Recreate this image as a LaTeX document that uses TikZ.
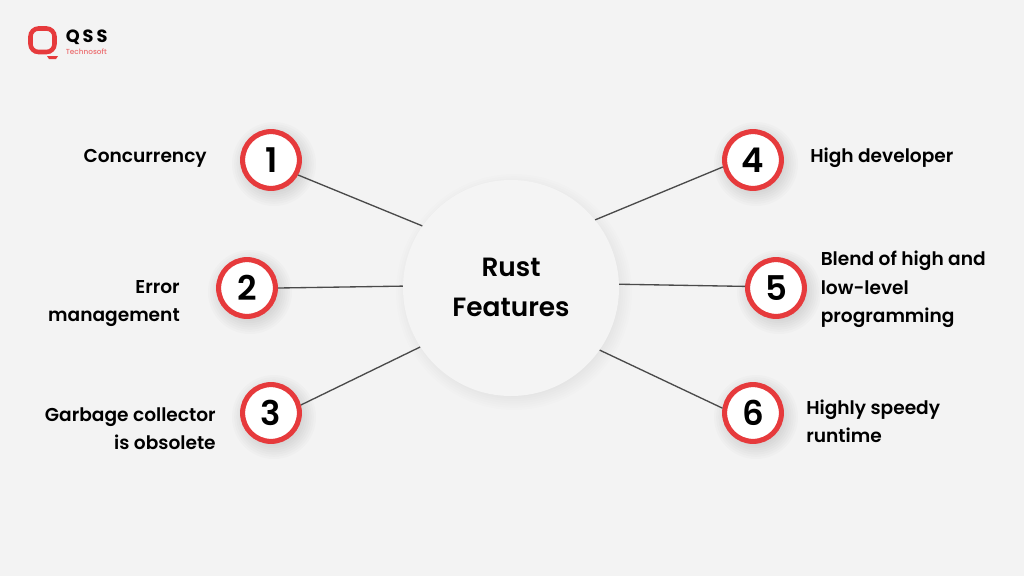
\documentclass[tikz,border=0pt]{standalone}
\usepackage{fontspec}
\setmainfont{Poppins SemiBold}
\newfontfamily\popsb{Poppins SemiBold}
\newfontfamily\popb{Poppins Bold}
\newfontfamily\popm{Poppins Medium}
\definecolor{bgc}{HTML}{F3F3F3}
\definecolor{hubf}{HTML}{F4F4F4}
\definecolor{redc}{HTML}{E63A3C}
\definecolor{linec}{HTML}{4A4A4A}
\tikzset{
  x=0.75pt,y=-0.75pt,
  numc/.style={circle,draw=redc,line width=3.8pt,fill=white,minimum size=42.6pt,inner sep=0pt,font=\popsb\fontsize{25.5pt}{25.5pt}\selectfont,text=black},
  hubc/.style={circle,fill=hubf,minimum size=162pt,inner sep=0pt,align=center,font=\popsb\fontsize{19.8pt}{30pt}\selectfont,text=black},
  lab/.style={font=\fontsize{13.95pt}{21pt}\selectfont,text=black,inner sep=0pt},
  conn/.style={draw=linec,line width=1pt},
}
\newcommand{\softshadow}[4]{% x y r maxalpha
  \foreach \k in {0,...,9}{
    \fill[black,opacity=#4] (#1+3,#2+4) circle ({(#3+12-2.2*\k)*0.75pt});
  }
}
\begin{document}
\begin{tikzpicture}
\useasboundingbox (0,0) rectangle (1024,576);
\fill[bgc] (0,0) rectangle (1024,576);
% shadows
\softshadow{511}{288}{106}{0.006}
\softshadow{271}{160}{30}{0.014}
\softshadow{247}{288}{30}{0.014}
\softshadow{271}{413}{30}{0.014}
\softshadow{753}{160}{30}{0.014}
\softshadow{776}{288}{30}{0.014}
\softshadow{753}{413}{30}{0.014}
% nodes
\node[hubc] (hub) at (511,288) {\raisebox{1pt}{Rust}\\\raisebox{0.7pt}{Features}};
\node[numc] (n1) at (271,160) {\hspace{1.5pt}1};
\node[numc] (n2) at (247,288) {2};
\node[numc] (n3) at (271,413) {3};
\node[numc] (n4) at (753,160) {4};
\node[numc] (n5) at (776,288) {5};
\node[numc] (n6) at (753,413) {6};
% connectors
\draw[conn] (n1.-29) -- (hub.145);
\draw[conn] (n2.0) -- (hub.179);
\draw[conn] (n3.15) -- (hub.213.5);
\draw[conn] (n4.193) -- (hub.39);
\draw[conn] (n5.177) -- (hub.2.6);
\draw[conn] (n6.171) -- (hub.-35);
% labels
\node[lab,anchor=east] (l1) at (207,158) {Concurrency};
\node[lab,anchor=east,align=right] (l2) at (180,304) {Error\\management};
\node[lab,anchor=east,align=right] (l3) at (216,428.5) {Garbage collector\\is obsolete};
\node[lab,anchor=west] (l4) at (810,158) {High developer};
\node[lab,anchor=west,align=left,font=\fontsize{13.95pt}{21.4pt}\selectfont] (l5) at (820.5,289.5) {Blend of high and\\low-level\\programming};
\node[lab,anchor=west,align=left] (l6) at (806,421.5) {Highly speedy\\runtime};
% logo
\draw[redc,line width=3.4pt,rounded corners=6pt] (30.5,28.5) rectangle (54.5,52);
\fill[redc] (47,56) -- (58,56) -- (56,59) -- (49,59) -- cycle;
\node[anchor=west,inner sep=0pt,font=\popb\fontsize{13.3pt}{13.5pt}\selectfont,text=black] (qss) at (65.5,37) {Q\,S\,S};
\node[anchor=west,inner sep=0pt,font=\popm\fontsize{5.5pt}{6pt}\selectfont,text=redc!75!white] (tech) at (65.5,52) {Technosoft};
\end{tikzpicture}
\end{document}
